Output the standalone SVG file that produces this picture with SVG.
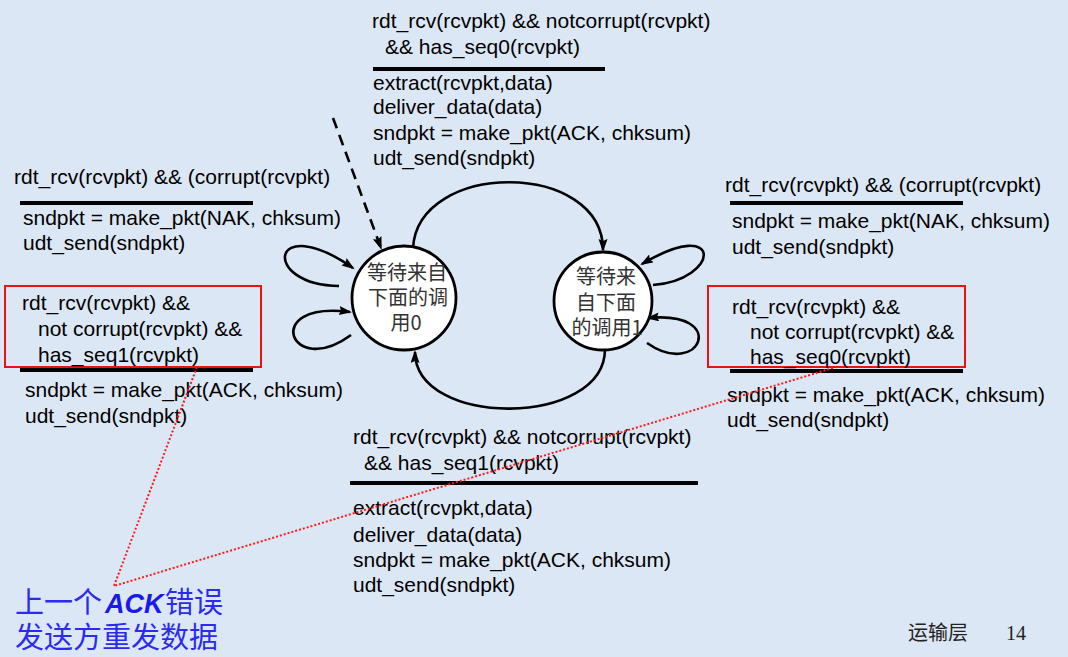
<svg xmlns="http://www.w3.org/2000/svg" width="1068" height="657" viewBox="0 0 1068 657">
<defs>
<marker id="arr" markerUnits="userSpaceOnUse" markerWidth="14" markerHeight="10" refX="11" refY="4.5" orient="auto">
<path d="M0,0 L13,4.5 L0,9 L2,4.5 z" fill="#000"/>
</marker>
<style>
.t{font-family:"Liberation Sans",Arial,sans-serif;font-size:21px;fill:#000}
.cn{font-family:"Noto Sans CJK SC",sans-serif;font-size:20px;fill:#333;text-anchor:middle}
.st{fill:#fff;stroke:#000;stroke-width:2.8}
.e{fill:none;stroke:#000;stroke-width:2.6}
.bar{fill:#000}
.rb{fill:none;stroke:#ee1111;stroke-width:2}
.dot{stroke:#ff1a1a;stroke-width:2;stroke-dasharray:2 2;fill:none}
.note{font-family:"Noto Sans CJK SC",sans-serif;font-size:29px;fill:#2b2bf0}
.ack{font-family:"Liberation Sans",sans-serif;font-weight:bold;font-style:italic;font-size:27px;fill:#1a1ae8}
.foot{font-family:"Noto Sans CJK SC",serif;font-size:20px;fill:#222}
</style>
</defs>
<rect x="0" y="0" width="1068" height="657" fill="#dce7f5"/>

<g id="connectors">
<path class="e" d="M413,248 C418,160 603,160 603,250" marker-end="url(#arr)"/>
<path class="e" d="M605,349 C605,428 415,428 415,352" marker-end="url(#arr)"/>
<path class="e" d="M339,286 C260,285 270,210 353,268" marker-end="url(#arr)"/>
<path class="e" d="M351,335 C290,380 260,300 350,312" marker-end="url(#arr)"/>
<path class="e" d="M653,285 C720,280 725,215 642,264" marker-end="url(#arr)"/>
<path class="e" d="M647,343 C700,380 730,310 648,318" marker-end="url(#arr)"/>
<path class="e" d="M333,118 L381,248" stroke-width="3" stroke-dasharray="11 7" marker-end="url(#arr)"/>
</g>

<g id="state0">
<circle class="st" cx="404" cy="298" r="52"/>
<text class="cn"><tspan x="407" y="280">等待来自</tspan><tspan x="408" y="305">下面的调</tspan><tspan x="406" y="330">用0</tspan></text>
</g>

<g id="state1">
<circle class="st" cx="603" cy="301" r="49"/>
<text class="cn"><tspan x="606" y="284">等待来</tspan><tspan x="606" y="310">自下面</tspan><tspan x="607" y="335">的调用1</tspan></text>
</g>

<g id="label-top">
<text class="t" x="372" y="28">rdt_rcv(rcvpkt) &amp;&amp; notcorrupt(rcvpkt)</text>
<text class="t" x="385" y="54">&amp;&amp; has_seq0(rcvpkt)</text>
<rect class="bar" x="373" y="67" width="232" height="4"/>
<text class="t" x="373" y="90">extract(rcvpkt,data)</text>
<text class="t" x="373" y="114">deliver_data(data)</text>
<text class="t" x="373" y="140">sndpkt = make_pkt(ACK, chksum)</text>
<text class="t" x="373" y="165">udt_send(sndpkt)</text>
</g>

<g id="label-left">
<text class="t" x="14" y="184">rdt_rcv(rcvpkt) &amp;&amp; (corrupt(rcvpkt)</text>
<rect class="bar" x="20" y="201" width="233" height="4"/>
<text class="t" x="23" y="225">sndpkt = make_pkt(NAK, chksum)</text>
<text class="t" x="23" y="250">udt_send(sndpkt)</text>
<rect class="rb" x="5" y="286" width="256" height="81"/>
<text class="t" x="22" y="310">rdt_rcv(rcvpkt) &amp;&amp;</text>
<text class="t" x="38" y="336">not corrupt(rcvpkt) &amp;&amp;</text>
<text class="t" x="38" y="362">has_seq1(rcvpkt)</text>
<rect class="bar" x="20" y="368" width="233" height="4"/>
<text class="t" x="25" y="397">sndpkt = make_pkt(ACK, chksum)</text>
<text class="t" x="25" y="423">udt_send(sndpkt)</text>
</g>

<g id="label-right">
<text class="t" x="725" y="192">rdt_rcv(rcvpkt) &amp;&amp; (corrupt(rcvpkt)</text>
<rect class="bar" x="730" y="201" width="233" height="4"/>
<text class="t" x="732" y="228">sndpkt = make_pkt(NAK, chksum)</text>
<text class="t" x="732" y="254">udt_send(sndpkt)</text>
<rect class="rb" x="708" y="286" width="257" height="81"/>
<text class="t" x="732" y="314">rdt_rcv(rcvpkt) &amp;&amp;</text>
<text class="t" x="750" y="339">not corrupt(rcvpkt) &amp;&amp;</text>
<text class="t" x="750" y="364">has_seq0(rcvpkt)</text>
<rect class="bar" x="730" y="369" width="233" height="4"/>
<text class="t" x="727" y="402">sndpkt = make_pkt(ACK, chksum)</text>
<text class="t" x="727" y="427">udt_send(sndpkt)</text>
</g>

<g id="label-bottom">
<text class="t" x="353" y="444">rdt_rcv(rcvpkt) &amp;&amp; notcorrupt(rcvpkt)</text>
<text class="t" x="364" y="470">&amp;&amp; has_seq1(rcvpkt)</text>
<rect class="bar" x="350" y="481" width="348" height="4"/>
<text class="t" x="353" y="515">extract(rcvpkt,data)</text>
<text class="t" x="353" y="542">deliver_data(data)</text>
<text class="t" x="353" y="567">sndpkt = make_pkt(ACK, chksum)</text>
<text class="t" x="353" y="592">udt_send(sndpkt)</text>
</g>

<g id="note">
<line class="dot" x1="197" y1="367" x2="114" y2="586"/>
<line class="dot" x1="833" y1="368" x2="114" y2="586"/>
<text class="note"><tspan x="15" y="613">上一个</tspan><tspan class="ack" x="105" y="613">ACK</tspan><tspan x="165" y="613">错误</tspan><tspan x="15" y="648">发送方重发数据</tspan></text>
</g>

<g id="footer">
<text class="foot" x="908" y="640">运输层</text>
<text x="1006" y="640" font-family="Liberation Serif,serif" font-size="20" fill="#222">14</text>
</g>
</svg>
